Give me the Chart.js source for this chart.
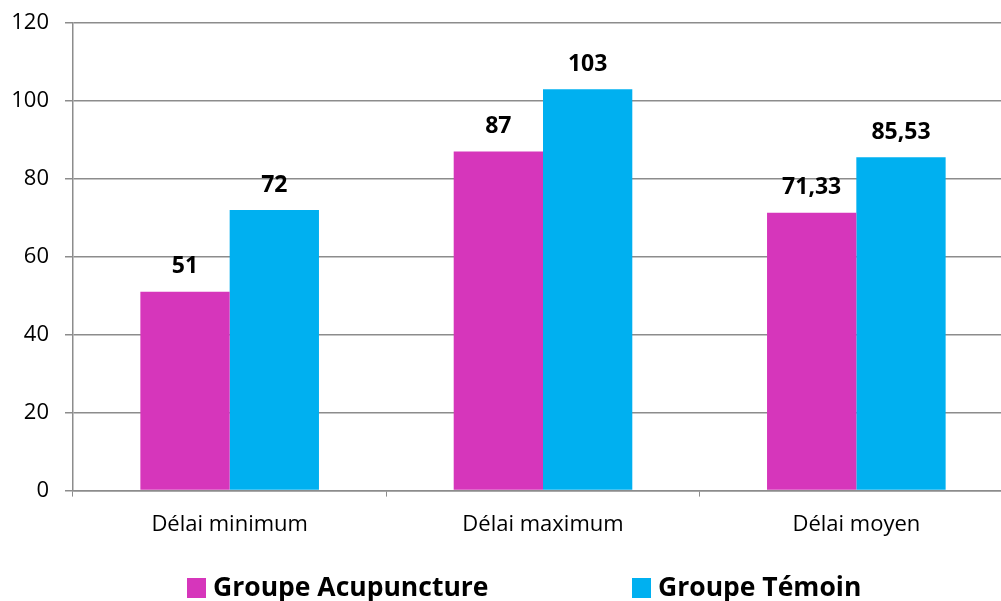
<!DOCTYPE html>
<html lang="fr">
<head>
    <meta charset="UTF-8">
    <title>Délais</title>
    <script src="https://cdn.jsdelivr.net/npm/chart.js@4.4.0/dist/chart.umd.min.js"></script>
    <style>
        html, body {
            margin: 0;
            padding: 0;
            background: #ffffff;
            overflow: hidden;
        }
        .chart-box {
            position: relative;
            width: 1013px;
            height: 601px;
        }
    </style>
</head>
<body>
    <div class="chart-box">
        <canvas id="delaiChart"></canvas>
    </div>

    <script>
        const categories = ['Délai minimum', 'Délai maximum', 'Délai moyen'];
        const acupuncture = [51, 87, 71.33];
        const temoin = [72, 103, 85.53];
        const yTicks = [0, 20, 40, 60, 80, 100, 120];

        const FONT = '"Open Sans", sans-serif';
        const GRID = '#8c8c8c';

        // valeurs au-dessus des barres, virgule décimale
        const valueLabels = {
            id: 'valueLabels',
            afterDatasetsDraw(chart) {
                const ctx = chart.ctx;
                ctx.save();
                ctx.font = 'bold 23px ' + FONT;
                ctx.fillStyle = '#000000';
                ctx.textAlign = 'center';
                ctx.textBaseline = 'middle';
                chart.data.datasets.forEach((ds, i) => {
                    chart.getDatasetMeta(i).data.forEach((bar, j) => {
                        const txt = String(ds.data[j]).replace('.', ',');
                        ctx.fillText(txt, bar.x, bar.y - 25);
                    });
                });
                ctx.restore();
            }
        };

        // légende en bas, deux entrées espacées
        const bottomLegend = {
            id: 'bottomLegend',
            afterDraw(chart) {
                const ctx = chart.ctx;
                const startX = [187, 632];
                const y = 588;
                ctx.save();
                ctx.font = 'bold 26.5px ' + FONT;
                ctx.textBaseline = 'middle';
                ctx.textAlign = 'left';
                chart.data.datasets.forEach((ds, i) => {
                    ctx.fillStyle = ds.backgroundColor;
                    ctx.fillRect(startX[i], y - 10, 19, 20);
                    ctx.fillStyle = '#000000';
                    ctx.fillText(ds.label, startX[i] + 26, y);
                });
                ctx.restore();
            }
        };

        new Chart(document.getElementById('delaiChart'), {
            type: 'bar',
            data: {
                labels: categories,
                datasets: [{
                    label: 'Groupe Acupuncture',
                    data: acupuncture,
                    backgroundColor: '#d636bb'
                }, {
                    label: 'Groupe Témoin',
                    data: temoin,
                    backgroundColor: '#00b0f0'
                }]
            },
            options: {
                responsive: true,
                maintainAspectRatio: false,
                animation: false,
                layout: {
                    padding: { top: 23, left: 0, right: 0, bottom: 48 }
                },
                datasets: {
                    bar: {
                        categoryPercentage: 0.57,
                        barPercentage: 1.0
                    }
                },
                plugins: {
                    tooltip: { enabled: false },
                    legend: { display: false }
                },
                scales: {
                    x: {
                        grid: {
                            offset: true,
                            drawOnChartArea: false,
                            drawTicks: true,
                            tickLength: 6,
                            color: GRID
                        },
                        border: { color: GRID, width: 1.5 },
                        ticks: {
                            color: '#000000',
                            padding: 15,
                            font: { family: FONT, size: 22 }
                        }
                    },
                    y: {
                        min: 0,
                        max: 120,
                        afterBuildTicks(axis) {
                            axis.ticks = yTicks.map(v => ({ value: v }));
                        },
                        afterFit(axis) {
                            axis.width = 73;
                            axis.paddingTop = 0;
                            axis.paddingBottom = 0;
                        },
                        grid: {
                            color: GRID,
                            lineWidth: 1.5,
                            tickLength: 8
                        },
                        border: { color: GRID, width: 1.5 },
                        ticks: {
                            color: '#000000',
                            padding: 16,
                            font: { family: FONT, size: 22 }
                        }
                    }
                }
            },
            plugins: [valueLabels, bottomLegend]
        });
    </script>
</body>
</html>
